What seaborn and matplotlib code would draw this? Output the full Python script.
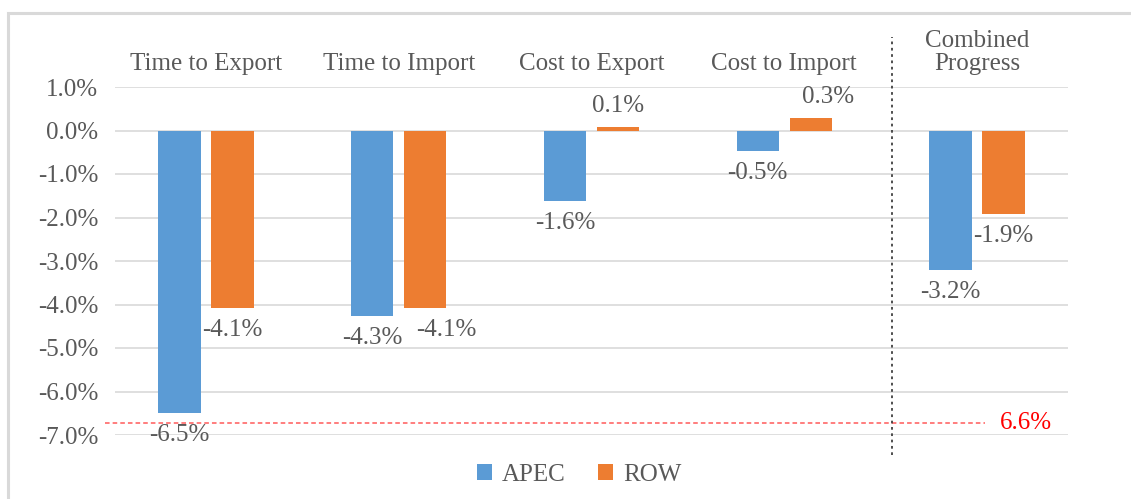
import matplotlib
matplotlib.use("Agg")
import matplotlib.pyplot as plt
import matplotlib.transforms as mtransforms
from matplotlib.patches import Patch, Rectangle
from matplotlib.ticker import FuncFormatter, MultipleLocator
import seaborn as sns
import pandas as pd

# ---- data ----
categories = ["Time to Export", "Time to Import", "Cost to Export", "Cost to Import", "Combined\nProgress"]
series_names = ["APEC", "ROW"]
apec_values = [-6.5, -4.27, -1.61, -0.46, -3.2]
row_values = [-4.08, -4.07, 0.08, 0.29, -1.93]
reference_line_value = -6.72
reference_label = "6.6%"

colors = {"APEC": "#5B9BD5", "ROW": "#ED7D31"}
text_color = "#595959"
grid_color = "#D9D9D9"

df = pd.DataFrame({
    "category": categories * 2,
    "series": ["APEC"] * len(categories) + ["ROW"] * len(categories),
    "value": apec_values + row_values,
})

sns.set_style("white")
plt.rcParams["font.family"] = ["Liberation Serif", "DejaVu Serif"]
FS = 18

fig = plt.figure(figsize=(11.31, 4.99), dpi=100)
W, H = 1131, 499
ax = fig.add_axes([115 / W, 1 - 435 / H, (1068 - 115) / W, (435 - 87) / H])

sns.barplot(data=df, x="category", y="value", hue="series", order=categories,
            hue_order=series_names, palette=colors, saturation=1, width=0.55, gap=0.2,
            errorbar=None, legend=False, ax=ax, zorder=3, linewidth=0)

ax.set_ylim(-7, 1)
ax.yaxis.set_major_locator(MultipleLocator(1))
ax.yaxis.set_major_formatter(FuncFormatter(lambda v, p: f"{v:.1f}%"))
ax.grid(axis="y", color=grid_color, linewidth=1.2, zorder=0)
ax.grid(axis="x", visible=False)
for s in ax.spines.values():
    s.set_visible(False)
ax.set_xlabel("")
ax.set_ylabel("")
ax.tick_params(axis="y", length=0, pad=12, labelsize=FS, labelcolor=text_color)
ax.xaxis.tick_top()
ax.tick_params(axis="x", length=0, pad=8.5, labelsize=FS, labelcolor=text_color)
for lbl in ax.get_xticklabels():
    lbl.set_linespacing(1.05)
    lbl.set_multialignment("center")

# ---- value labels ----
x_nudge_px = {("ROW", 1): 21, ("ROW", 3): 17}
px2pt = 72 / fig.dpi
for name, container in zip(series_names, ax.containers):
    vals = apec_values if name == "APEC" else row_values
    for i, (bar, v) in enumerate(zip(container.patches, vals)):
        xc = bar.get_x() + bar.get_width() / 2
        dy = 21 if v >= 0 else -22
        dx = x_nudge_px.get((name, i), 0)
        ax.annotate(f"{v:.1f}%", xy=(xc, v), xytext=(dx * px2pt, dy * px2pt),
                    textcoords="offset points", ha="center", va="center",
                    fontsize=FS, color=text_color, zorder=5)

# ---- reference dashed red line ----
blend = mtransforms.blended_transform_factory(ax.transAxes, ax.transData)
ax.plot([-0.0105, 0.913], [reference_line_value, reference_line_value], transform=blend,
        color="#FF5A5A", linestyle=(0, (3, 2)), linewidth=1.1, clip_on=False, zorder=4)
ax.text(0.929, reference_line_value, reference_label, transform=blend, ha="left", va="center",
        fontsize=FS, color="#FF0000")

# ---- vertical dotted separator ----
ax.plot([0.815, 0.815], [-0.057, 1.144], transform=ax.transAxes, color="#404040",
        linestyle=(0, (1.5, 2)), linewidth=1.3, clip_on=False, zorder=4)

# ---- legend ----
handles = [Patch(facecolor=colors[n], edgecolor="none", label=n) for n in series_names]
fig.legend(handles=handles, loc="center", bbox_to_anchor=(579 / W, 1 - 475 / H), ncol=2,
           frameon=False, fontsize=FS, labelcolor=text_color, handlelength=0.6,
           handleheight=0.6, handletextpad=0.4, columnspacing=1.3)

# ---- outer frame ----
fig.patches.append(Rectangle((8 / W, -0.05), 1.2, 1 - 13 / H + 0.05, transform=fig.transFigure,
                             fill=False, edgecolor=grid_color, linewidth=2.2))

fig.savefig("out.png", dpi=100, facecolor="white")
